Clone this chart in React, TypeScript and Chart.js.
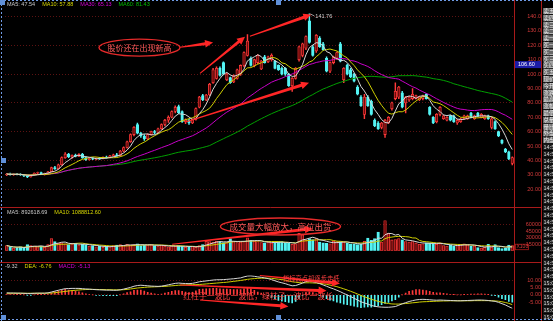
import React, { useEffect, useRef } from "react";
import { Chart, registerables } from "chart.js";

Chart.register(...registerables);

// ---------------- data ----------------
const opens = [
  30.0, 30.6, 30.2, 30.5, 30.3, 30.0, 29.2, 28.6, 29.9, 31.2,
  31.6, 30.6, 30.8, 32.2, 35.0, 34.2, 37.0, 42.0, 44.5, 42.6,
  43.5, 43.0, 44.2, 42.0, 40.6, 41.4, 40.9, 41.5, 41.2, 42.3,
  42.0, 43.2, 44.0, 43.4, 46.5, 49.0, 53.0, 58.0, 65.0, 59.0,
  57.0, 55.0, 58.0, 60.0, 59.5, 62.0, 65.0, 68.0, 70.0, 74.0,
  77.5, 74.0, 67.0, 68.0, 66.0, 68.5, 77.0, 85.0, 82.0, 85.5,
  94.0, 97.0, 104.0, 108.0, 96.0, 97.5, 94.5, 97.0, 100.0, 106.0,
  113.0, 111.0, 106.0, 108.0, 103.5, 112.0, 108.5, 110.0, 109.0, 106.0,
  104.0, 104.0, 100.0, 92.0, 97.0, 110.0, 113.0, 118.0, 137.0, 119.0,
  116.0, 125.0, 121.0, 111.0, 102.0, 108.0, 111.0, 121.0, 96.0, 106.0,
  103.0, 100.0, 91.0, 84.0, 72.0, 84.0, 81.0, 68.0, 66.0, 63.0,
  58.0, 66.0, 76.0, 83.0, 84.0, 87.0, 80.0, 82.0, 83.0, 83.0,
  82.0, 83.0, 86.0, 77.0, 70.0, 67.0, 72.0, 69.0, 68.0, 71.0,
  71.0, 66.0, 67.0, 69.0, 69.0, 73.0, 69.0, 73.0, 70.0, 69.0,
  71.0, 63.0, 67.0, 60.0, 54.0, 48.0, 46.0, 38.0,
];
const highs = [
  31.0, 31.2, 30.8, 31.0, 30.9, 30.4, 30.0, 30.2, 31.5, 32.0,
  32.0, 31.2, 32.5, 35.5, 36.0, 37.5, 42.5, 45.5, 45.0, 44.0,
  44.5, 44.8, 45.0, 42.5, 41.8, 42.0, 41.8, 42.2, 42.6, 43.0,
  43.5, 44.5, 45.0, 47.0, 49.5, 53.5, 58.5, 63.5, 66.0, 59.5,
  58.0, 58.5, 60.5, 61.0, 62.5, 65.5, 68.5, 71.0, 74.5, 78.0,
  78.5, 74.5, 69.0, 68.5, 69.0, 76.5, 84.5, 86.0, 86.0, 93.5,
  104.0, 105.0, 105.0, 108.5, 100.5, 98.0, 99.5, 103.5, 106.5, 115.5,
  127.5, 112.0, 110.5, 113.5, 109.5, 113.0, 112.5, 114.0, 109.5, 106.5,
  105.0, 104.5, 100.5, 97.5, 104.5, 119.5, 121.5, 126.5, 141.76, 120.0,
  127.5, 126.0, 122.0, 112.0, 108.5, 112.5, 115.5, 122.0, 104.5, 107.0,
  104.0, 100.5, 92.0, 85.0, 86.0, 85.0, 82.0, 69.0, 67.0, 66.5,
  68.5, 70.5, 80.5, 94.0, 91.5, 88.0, 84.5, 84.5, 90.0, 85.5,
  84.5, 85.5, 86.5, 77.5, 70.5, 72.5, 77.5, 71.5, 70.5, 71.5,
  71.5, 68.5, 69.5, 71.5, 71.5, 73.5, 71.5, 73.5, 72.5, 71.5,
  71.5, 70.0, 67.5, 60.5, 54.5, 48.5, 46.5, 42.5,
];
const lows = [
  29.5, 29.8, 29.6, 30.0, 29.7, 28.8, 28.0, 28.4, 29.6, 30.5,
  30.2, 29.8, 30.5, 32.0, 33.8, 34.0, 36.8, 41.5, 42.0, 41.5,
  42.5, 42.6, 41.5, 40.0, 40.2, 40.5, 40.4, 40.8, 41.0, 41.6,
  41.8, 42.8, 43.0, 43.2, 46.0, 48.5, 52.5, 57.0, 58.5, 56.0,
  54.0, 54.5, 57.5, 58.5, 59.0, 61.5, 64.0, 66.5, 69.5, 73.0,
  72.5, 66.5, 65.5, 65.0, 65.5, 68.0, 76.5, 81.5, 81.5, 85.0,
  93.5, 96.5, 98.5, 99.5, 95.5, 93.5, 94.0, 96.5, 99.0, 105.0,
  112.5, 105.5, 105.0, 107.0, 103.0, 107.5, 108.0, 109.0, 103.5, 102.5,
  99.5, 99.0, 91.5, 88.0, 96.5, 109.0, 112.0, 117.0, 121.5, 112.5,
  115.0, 118.5, 116.5, 101.5, 101.0, 107.0, 110.0, 108.5, 94.0, 99.5,
  97.5, 94.5, 85.5, 77.5, 69.0, 77.5, 71.5, 63.5, 61.5, 62.0,
  56.0, 65.5, 75.0, 82.0, 83.0, 76.5, 73.0, 81.0, 82.0, 82.5,
  81.5, 82.0, 82.5, 71.5, 65.5, 66.0, 71.0, 68.5, 67.5, 67.5,
  66.5, 65.0, 66.5, 68.5, 68.5, 69.5, 68.5, 70.5, 69.5, 68.5,
  68.5, 62.0, 61.5, 56.5, 51.5, 45.5, 40.5, 37.0,
];
const closes = [
  30.6, 30.2, 30.5, 30.3, 30.0, 29.2, 28.6, 29.9, 31.2, 31.6,
  30.6, 30.8, 32.2, 35.0, 34.2, 37.0, 42.0, 44.5, 42.6, 43.5,
  43.0, 44.2, 42.0, 40.6, 41.4, 40.9, 41.5, 41.2, 42.3, 42.0,
  43.2, 44.0, 43.4, 46.5, 49.0, 53.0, 58.0, 63.0, 59.0, 57.0,
  55.0, 58.0, 60.0, 59.5, 62.0, 65.0, 68.0, 70.0, 74.0, 77.0,
  73.0, 67.0, 68.0, 66.0, 68.5, 76.0, 84.0, 82.0, 85.5, 93.0,
  103.0, 104.0, 99.0, 100.0, 100.0, 94.0, 99.0, 103.0, 106.0, 115.0,
  123.0, 106.0, 110.0, 113.0, 109.0, 108.0, 112.0, 113.0, 104.0, 103.0,
  100.0, 100.0, 92.0, 97.0, 104.0, 119.0, 121.0, 126.0, 122.0, 113.0,
  127.0, 119.0, 117.0, 102.0, 108.0, 112.0, 115.0, 109.0, 104.0, 100.0,
  98.0, 95.0, 86.0, 78.0, 84.0, 78.0, 72.0, 64.0, 62.0, 66.0,
  68.0, 70.0, 80.0, 88.0, 91.0, 77.0, 84.0, 84.0, 86.0, 85.0,
  84.0, 85.0, 83.0, 72.0, 66.0, 72.0, 77.0, 71.0, 70.0, 68.0,
  67.0, 68.0, 69.0, 71.0, 71.0, 70.0, 71.0, 71.0, 72.0, 71.0,
  69.0, 69.0, 62.0, 57.0, 52.0, 46.0, 41.0, 42.0,
];
const volumes = [
  12000, 8000, 6000, 7000, 9000, 6000, 14000, 12000, 11000, 9000,
  10000, 8000, 14000, 28000, 21000, 17000, 18000, 16000, 14000, 16000,
  17000, 13000, 15000, 14000, 11000, 12000, 9000, 10000, 8000, 10000,
  9000, 12000, 13000, 14000, 12000, 15000, 13000, 14000, 16000, 12000,
  13000, 13000, 14000, 12000, 11000, 13000, 10000, 9000, 11000, 10000,
  12000, 10000, 8000, 9000, 10000, 8000, 12000, 14000, 22000, 21000,
  20000, 22000, 21000, 19000, 20000, 28000, 21000, 19000, 20000, 21000,
  30000, 24000, 22000, 21000, 19000, 18000, 20000, 18000, 19000, 21000,
  21000, 18000, 17000, 15000, 16000, 40000, 37000, 25000, 28000, 26000,
  28000, 20000, 18000, 17000, 16000, 22000, 21000, 21000, 20000, 17000,
  16000, 15000, 14000, 15000, 22000, 29000, 24000, 28000, 43000, 20000,
  70000, 40000, 25000, 26000, 28000, 25000, 21000, 20000, 21000, 18000,
  15000, 16000, 18000, 18000, 17000, 15000, 18000, 12000, 11000, 13000,
  11000, 12000, 15000, 16000, 14000, 10000, 11000, 7000, 6000, 8000,
  15000, 9000, 14000, 7000, 5000, 6000, 13000, 12000,
];
// MACD lines as drawn (DIF white, DEA yellow)
const difLine = [
  1.4, 1.3, 1.3, 1.2, 1.2, 1.1, 1.0, 1.0, 1.1, 1.2,
  1.2, 1.2, 1.4, 2.0, 2.6, 3.2, 3.8, 4.3, 4.4, 4.5,
  4.5, 4.5, 4.3, 4.1, 4.0, 3.8, 3.6, 3.5, 3.4, 3.3,
  3.3, 3.2, 3.2, 3.5, 4.0, 4.6, 5.2, 6.0, 6.5, 6.7,
  6.5, 6.3, 6.1, 6.0, 5.9, 6.1, 6.5, 7.0, 7.5, 8.0,
  8.2, 8.0, 7.9, 7.8, 8.0, 8.5, 9.1, 9.4, 9.7, 10.0,
  10.3, 10.5, 10.5, 10.6, 10.8, 11.0, 11.2, 11.5, 11.8, 12.5,
  13.1, 13.2, 12.9, 12.5, 12.2, 11.8, 11.3, 10.6, 9.8, 9.0,
  8.4, 7.8, 7.0, 6.3, 6.5, 7.3, 8.2, 9.2, 9.5, 9.1,
  8.6, 7.8, 6.9, 6.0, 5.0, 4.2, 3.2, 2.2, 1.0, 0.0,
  -1.2, -2.3, -3.6, -4.8, -5.6, -6.4, -7.3, -7.9, -8.3, -8.5,
  -8.6, -8.6, -8.4, -8.1, -7.2, -6.2, -5.4, -4.6, -4.0, -3.5,
  -3.2, -3.1, -3.2, -3.4, -3.6, -3.7, -3.6, -3.7, -3.8, -3.9,
  -4.0, -4.1, -4.1, -4.0, -3.9, -3.8, -3.7, -3.6, -3.6, -3.7,
  -3.9, -4.2, -4.5, -5.2, -6.1, -7.0, -8.2, -9.32,
];
const deaLine = [
  1.1, 1.1, 1.1, 1.1, 1.1, 1.1, 1.1, 1.1, 1.1, 1.1,
  1.1, 1.1, 1.2, 1.3, 1.5, 1.8, 2.1, 2.4, 2.7, 3.0,
  3.2, 3.4, 3.6, 3.7, 3.8, 3.8, 3.8, 3.7, 3.7, 3.6,
  3.6, 3.5, 3.5, 3.5, 3.6, 3.8, 4.1, 4.4, 4.8, 5.0,
  5.2, 5.4, 5.5, 5.6, 5.7, 5.8, 5.9, 6.1, 6.3, 6.5,
  6.7, 6.8, 6.9, 7.0, 7.1, 7.1, 7.2, 7.4, 7.6, 7.8,
  8.0, 8.2, 8.4, 8.6, 8.8, 9.1, 9.4, 9.7, 10.0, 10.4,
  10.8, 11.1, 11.3, 11.5, 11.6, 11.6, 11.6, 11.5, 11.2, 10.9,
  10.6, 10.2, 9.6, 9.1, 8.8, 8.5, 8.4, 8.4, 8.4, 8.3,
  8.2, 8.0, 7.7, 7.3, 6.8, 6.3, 5.7, 5.0, 4.2, 3.4,
  2.5, 1.6, 0.6, -0.4, -1.3, -2.2, -3.0, -3.8, -4.5, -5.1,
  -5.6, -6.0, -6.3, -6.4, -6.4, -6.2, -6.0, -5.8, -5.5, -5.3,
  -5.0, -4.8, -4.7, -4.6, -4.5, -4.4, -4.3, -4.2, -4.2, -4.1,
  -4.1, -4.1, -4.1, -4.1, -4.1, -4.1, -4.0, -4.0, -4.0, -4.0,
  -4.0, -4.1, -4.2, -4.4, -4.8, -5.3, -5.9, -6.76,
];

const priceTicks = [140, 130, 120, 110, 100, 90, 80, 70, 60, 50, 40, 30, 20];
const volumeTicks = [15000, 30000, 45000, 60000];
const macdTicks = [10, 5, 0, -5];

const priceHeader = ["MA5: 47.54", "MA10: 57.88", "MA30: 65.13", "MA60: 81.43"];
const volumeHeader = ["MA5: 892618.69", "MA10: 1088812.60"];
const macdHeader = ["-9.32", "DEA: -6.76", "MACD: -5.13"];
const peakLabel = "141.76";
const cursorPrice = 106.6;
const cursorLabel = "106.60";
const volumeUnit = "X100";
const note1 = "股价还在出现新高";
const note2 = "成交量大幅放大，高位出货";
const note3 = "指标高点却逐步走低";
const note4 = "红柱子一波比一波低，绿柱子一波比一波长";
const stripRows = [
  "卖五", "卖四", "卖三", "卖二", "卖一", "买一", "买二", "买三", "买四", "买五",
  "现价", "今开", "涨跌", "最高", "涨幅", "最低", "总量", "量比", "外盘", "内盘",
  "14:50", "14:50", "14:51", "14:51", "14:52", "14:52", "14:53", "14:53", "14:54", "14:54",
  "14:55", "14:55", "14:56", "14:56", "14:57", "14:57", "14:58", "14:58", "14:59", "14:59",
  "15:00", "15:00", "15:00", "15:00", "15:00", "15:00",
];

// ---------------- helpers ----------------
function sma(src: number[], n: number): number[] {
  return src.map((_, i) => {
    const s = Math.max(0, i - n + 1);
    let t = 0;
    for (let k = s; k <= i; k++) t += src[k];
    return t / (i - s + 1);
  });
}

const labels = closes.map((_, i) => String(i));
const up = closes.map((c, i) => c >= opens[i]);
const ma5 = sma(closes, 5);
const ma10 = sma(closes, 10);
const ma30 = sma(closes, 30);
const ma60 = sma(closes, 60);
const vma5 = sma(volumes, 5);
const vma10 = sma(volumes, 10);
const macdBars = difLine.map((v, i) => 2 * (v - deaLine[i]));

// ---------------- styles ----------------
const RED = "#ff3a3a";
const UPFILL = "#6e0b0b";
const CYAN = "#54f4f4";
const ARROW = "#ff2626";
const AXIS = "#a81a1a";
const LABEL = "#d23a3a";
const W = 553;
const PRICE_TOP = 0, PRICE_H = 208;
const VOL_TOP = 208, VOL_H = 55;
const MACD_TOP = 263, MACD_H = 58;
const NUMFONT = "'Liberation Sans', 'DejaVu Sans', sans-serif";
const CJK = "'Noto Sans CJK SC', sans-serif";

// annotation anchors (category index, value)
type Pt = [number, number];
const priceArrows: [Pt, Pt][] = [
  [[50.4, 118.7], [60.0, 121.9]],
  [[56.2, 100.5], [69.3, 126.0]],
  [[70.7, 126.3], [88.6, 141.3]],
  [[51.8, 66.5], [87.9, 93.9]],
];
const note1Anchor: Pt = [38.6, 118.4];
const volumeArrows: [Pt, Pt][] = [[[48.1, 15000], [89.0, 51000]]];
const note2Anchor: Pt = [79.6, 56250];
const macdArrows: [Pt, Pt][] = [
  [[73.6, 13.4], [96.9, 7.9]],
  [[50.4, 6.9], [93.0, 2.9]],
  [[56.2, -3.6], [81.9, -8.0]],
];
const note3Anchor: Pt = [80.3, 11.3];
const note4Anchor: Pt = [51.3, -0.9];

function drawArrow(ctx: CanvasRenderingContext2D, x1: number, y1: number, x2: number, y2: number) {
  const a = Math.atan2(y2 - y1, x2 - x1);
  const ux = Math.cos(a), uy = Math.sin(a);
  const nx = -uy, ny = ux;
  const head = 8, hw = 3.8, w0 = 0.5, w1 = 1.5;
  const bx = x2 - ux * head, by = y2 - uy * head;
  ctx.fillStyle = ARROW;
  ctx.beginPath();
  ctx.moveTo(x1 + nx * w0, y1 + ny * w0);
  ctx.lineTo(bx + nx * w1, by + ny * w1);
  ctx.lineTo(bx + nx * hw, by + ny * hw);
  ctx.lineTo(x2, y2);
  ctx.lineTo(bx - nx * hw, by - ny * hw);
  ctx.lineTo(bx - nx * w1, by - ny * w1);
  ctx.lineTo(x1 - nx * w0, y1 - ny * w0);
  ctx.closePath();
  ctx.fill();
}

function drawNoteEllipse(ctx: CanvasRenderingContext2D, cx: number, cy: number, rx: number, ry: number, text: string, size: number) {
  ctx.strokeStyle = "#e62a2a";
  ctx.lineWidth = 1.4;
  ctx.beginPath();
  ctx.ellipse(cx, cy, rx, ry, 0, 0, Math.PI * 2);
  ctx.stroke();
  ctx.fillStyle = "#ff5a5a";
  ctx.font = `${size}px ${CJK}`;
  ctx.textAlign = "center";
  ctx.textBaseline = "middle";
  ctx.fillText(text, cx, cy + 0.5);
}

function drawHeader(ctx: CanvasRenderingContext2D, items: string[], colors: string[], x0: number, y: number) {
  ctx.font = `5.5px ${NUMFONT}`;
  ctx.textAlign = "left";
  ctx.textBaseline = "middle";
  let x = x0;
  items.forEach((t, i) => {
    ctx.fillStyle = colors[i];
    ctx.fillText(t, x, y);
    x += ctx.measureText(t).width + 7;
  });
}

function drawFrame(ctx: CanvasRenderingContext2D, top: number, h: number, sepBottom: boolean) {
  ctx.save();
  ctx.translate(0, -top);
  ctx.strokeStyle = AXIS;
  ctx.lineWidth = 1;
  ctx.beginPath();
  ctx.moveTo(514.5, top); ctx.lineTo(514.5, top + h);
  ctx.moveTo(541.5, top); ctx.lineTo(541.5, top + h);
  if (sepBottom) {
    ctx.moveTo(0, top + h - 0.5); ctx.lineTo(541, top + h - 0.5);
  }
  ctx.stroke();
  // right-hand quote strip (cut off by the window)
  ctx.font = `5.5px ${CJK}`;
  ctx.textAlign = "left";
  ctx.textBaseline = "middle";
  stripRows.forEach((t, k) => {
    const yk = 8 + k * 6.8;
    if (yk + 7 < top || yk > top + h) return;
    const cjk = k < 20;
    ctx.fillStyle = cjk ? "#686868" : "#1a1a1a";
    ctx.fillRect(543, yk, 10, 6);
    ctx.fillStyle = cjk ? "#f0f0f0" : "#d8d8d8";
    ctx.fillText(t, 543.5, yk + 3);
  });
  // selection outline of the screenshot
  ctx.strokeStyle = "#6f9be6";
  ctx.setLineDash([2, 2]);
  ctx.beginPath();
  ctx.moveTo(0, 0.5); ctx.lineTo(W, 0.5);
  ctx.moveTo(1.5, 0); ctx.lineTo(1.5, 321);
  ctx.moveTo(0, 319.5); ctx.lineTo(W, 319.5);
  ctx.stroke();
  ctx.setLineDash([]);
  ctx.fillStyle = "#5f8fd8";
  [[0, 0], [276, 0], [1, 158], [1, 315], [276, 315]].forEach(([hx, hy]) => ctx.fillRect(hx, hy, 5, 5));
  ctx.restore();
}

const hiddenX = { display: false, offset: true, grid: { display: false } } as any;

function rightAxis(min: number, max: number, ticks: number[], fmt: (v: number) => string, gridOn: (v: number) => boolean) {
  return {
    position: "right",
    min,
    max,
    afterFit: (s: any) => { s.width = 27; },
    afterBuildTicks: (s: any) => { s.ticks = ticks.map((v) => ({ value: v })); },
    ticks: {
      color: LABEL,
      font: { size: 5.5, family: NUMFONT },
      padding: 9,
      crossAlign: "far",
      callback: (v: any) => fmt(Number(v)),
    },
    grid: {
      drawTicks: false,
      color: (c: any) => (c.tick && gridOn(c.tick.value) ? "#5c1212" : "rgba(0,0,0,0)"),
      lineWidth: 1,
    },
    border: { display: false, dash: [1, 2] },
  } as any;
}

function baseOptions(padding: any, yScale: any) {
  return {
    responsive: false,
    animation: false,
    events: [],
    layout: { padding },
    plugins: { legend: { display: false }, tooltip: { enabled: false } },
    scales: { x: hiddenX, y: yScale },
  } as any;
}

function lineDs(data: number[], color: string, order = 1) {
  return { type: "line", data, borderColor: color, borderWidth: 1, pointRadius: 0, order, fill: false } as any;
}

function makePrice(cv: HTMLCanvasElement) {
  const plugin = {
    id: "priceDecor",
    afterDatasetsDraw(chart: any) {
      const { ctx, scales } = chart;
      const x = scales.x, y = scales.y;
      ctx.save();
      priceArrows.forEach(([a, b]) =>
        drawArrow(ctx, x.getPixelForValue(a[0]), y.getPixelForValue(a[1]), x.getPixelForValue(b[0]), y.getPixelForValue(b[1])));
      drawNoteEllipse(ctx, x.getPixelForValue(note1Anchor[0]), y.getPixelForValue(note1Anchor[1]), 40.5, 8.5, note1, 8);
      const pk = highs.indexOf(Math.max(...highs));
      const px = x.getPixelForValue(pk), py = y.getPixelForValue(highs[pk]);
      ctx.strokeStyle = "#bdbdbd";
      ctx.lineWidth = 0.8;
      ctx.beginPath(); ctx.moveTo(px + 1, py); ctx.lineTo(px + 5, py + 2); ctx.stroke();
      ctx.fillStyle = "#cfcfcf";
      ctx.font = `5.5px ${NUMFONT}`;
      ctx.textAlign = "left"; ctx.textBaseline = "middle";
      ctx.fillText(peakLabel, px + 6, py + 2.5);
      ctx.restore();
    },
    afterDraw(chart: any) {
      const { ctx, scales } = chart;
      ctx.save();
      drawHeader(ctx, priceHeader, ["#c8c8c8", "#d8d800", "#d800d8", "#00c000"], 7, 4.5);
      const cy = scales.y.getPixelForValue(cursorPrice);
      ctx.fillStyle = "#1c1ca8";
      ctx.fillRect(514, cy - 3.5, 27, 7);
      ctx.fillStyle = "#ffffff";
      ctx.font = `5.5px ${NUMFONT}`;
      ctx.textAlign = "left"; ctx.textBaseline = "middle";
      ctx.fillText(cursorLabel, 518, cy + 0.3);
      ctx.restore();
      drawFrame(ctx, PRICE_TOP, PRICE_H, true);
    },
  };
  return new Chart(cv, {
    type: "bar",
    data: {
      labels,
      datasets: [
        lineDs(ma5, "#d6d6d6"),
        lineDs(ma10, "#cfcf00"),
        lineDs(ma30, "#c800c8"),
        lineDs(ma60, "#00a000"),
        {
          type: "bar",
          data: opens.map((o, i) => [o, closes[i]]),
          backgroundColor: up.map((u) => (u ? UPFILL : CYAN)),
          borderColor: up.map((u) => (u ? RED : CYAN)),
          borderWidth: 0.8,
          borderSkipped: false,
          barThickness: 2.6,
          grouped: false,
          order: 2,
        },
        {
          type: "bar",
          data: lows.map((l, i) => [l, highs[i]]),
          backgroundColor: up.map((u) => (u ? RED : CYAN)),
          barThickness: 0.8,
          grouped: false,
          order: 3,
        },
      ],
    } as any,
    options: baseOptions(
      { left: 5, right: 12, top: 5, bottom: 3 },
      rightAxis(15.54, 142.9, priceTicks, (v) => (v >= 100 ? v.toFixed(1) : v.toFixed(2)), (v) => v % 20 === 0)
    ),
    plugins: [plugin as any],
  });
}

function makeVolume(cv: HTMLCanvasElement) {
  const plugin = {
    id: "volDecor",
    afterDatasetsDraw(chart: any) {
      const { ctx, scales } = chart;
      const x = scales.x, y = scales.y;
      ctx.save();
      volumeArrows.forEach(([a, b]) =>
        drawArrow(ctx, x.getPixelForValue(a[0]), y.getPixelForValue(a[1]), x.getPixelForValue(b[0]), y.getPixelForValue(b[1])));
      drawNoteEllipse(ctx, x.getPixelForValue(note2Anchor[0]), y.getPixelForValue(note2Anchor[1]), 60, 8.5, note2, 8.5);
      ctx.restore();
    },
    afterDraw(chart: any) {
      const { ctx, scales } = chart;
      ctx.save();
      drawHeader(ctx, volumeHeader, ["#c8c8c8", "#d8d800"], 7, 4);
      const y0 = scales.y.getPixelForValue(0);
      ctx.strokeStyle = AXIS; ctx.lineWidth = 0.8;
      ctx.strokeRect(515.5, y0 - 6.5, 13, 5.5);
      ctx.fillStyle = LABEL;
      ctx.font = `5px ${NUMFONT}`;
      ctx.textAlign = "left"; ctx.textBaseline = "middle";
      ctx.fillText(volumeUnit, 516.5, y0 - 3.6);
      ctx.restore();
      drawFrame(ctx, VOL_TOP, VOL_H, true);
    },
  };
  return new Chart(cv, {
    type: "bar",
    data: {
      labels,
      datasets: [
        lineDs(vma5, "#d6d6d6"),
        lineDs(vma10, "#cfcf00"),
        {
          type: "bar",
          data: volumes,
          backgroundColor: up.map((u) => (u ? UPFILL : CYAN)),
          borderColor: up.map((u) => (u ? RED : CYAN)),
          borderWidth: 0.8,
          borderSkipped: false,
          barThickness: 2.6,
          grouped: false,
          order: 2,
        },
      ],
    } as any,
    options: baseOptions(
      { left: 5, right: 12, top: 7, bottom: 1 },
      rightAxis(0, 70500, volumeTicks, (v) => String(v), (v) => v === 60000)
    ),
    plugins: [plugin as any],
  });
}

function makeMacd(cv: HTMLCanvasElement) {
  const plugin = {
    id: "macdDecor",
    afterDatasetsDraw(chart: any) {
      const { ctx, scales } = chart;
      const x = scales.x, y = scales.y;
      ctx.save();
      macdArrows.forEach(([a, b]) =>
        drawArrow(ctx, x.getPixelForValue(a[0]), y.getPixelForValue(a[1]), x.getPixelForValue(b[0]), y.getPixelForValue(b[1])));
      ctx.fillStyle = "#ff4040";
      ctx.font = `6.3px ${CJK}`;
      ctx.textAlign = "left"; ctx.textBaseline = "middle";
      ctx.fillText(note3, x.getPixelForValue(note3Anchor[0]), y.getPixelForValue(note3Anchor[1]));
      ctx.font = `7.9px ${CJK}`;
      ctx.fillText(note4, x.getPixelForValue(note4Anchor[0]), y.getPixelForValue(note4Anchor[1]));
      ctx.restore();
    },
    afterDraw(chart: any) {
      const { ctx } = chart;
      ctx.save();
      drawHeader(ctx, macdHeader, ["#c8c8c8", "#d8d800", "#d800d8"], 5, 3.5);
      ctx.restore();
      drawFrame(ctx, MACD_TOP, MACD_H, false);
    },
  };
  return new Chart(cv, {
    type: "bar",
    data: {
      labels,
      datasets: [
        lineDs(difLine, "#d6d6d6"),
        lineDs(deaLine, "#cfcf00"),
        {
          type: "bar",
          data: macdBars,
          backgroundColor: macdBars.map((v) => (v >= 0 ? RED : CYAN)),
          barThickness: 1,
          grouped: false,
          order: 2,
        },
      ],
    } as any,
    options: baseOptions(
      { left: 5, right: 12, top: 5, bottom: 2 },
      rightAxis(-9.6, 13.6, macdTicks, (v) => v.toFixed(2), (v) => v === 10 || v === 0)
    ),
    plugins: [plugin as any],
  });
}

export default function App() {
  const pRef = useRef<HTMLCanvasElement>(null);
  const vRef = useRef<HTMLCanvasElement>(null);
  const mRef = useRef<HTMLCanvasElement>(null);
  useEffect(() => {
    document.body.style.margin = "0";
    document.body.style.background = "#000";
    const charts = [makePrice(pRef.current!), makeVolume(vRef.current!), makeMacd(mRef.current!)];
    return () => charts.forEach((c) => c.destroy());
  }, []);
  const cs = (top: number, h: number) =>
    ({ position: "absolute", left: 0, top, width: W, height: h, display: "block" } as React.CSSProperties);
  return (
    <div style={{ position: "fixed", left: 0, top: 0, width: W, height: 321, background: "#000", overflow: "hidden" }}>
      <canvas ref={pRef} width={W} height={PRICE_H} style={cs(PRICE_TOP, PRICE_H)} />
      <canvas ref={vRef} width={W} height={VOL_H} style={cs(VOL_TOP, VOL_H)} />
      <canvas ref={mRef} width={W} height={MACD_H} style={cs(MACD_TOP, MACD_H)} />
    </div>
  );
}
